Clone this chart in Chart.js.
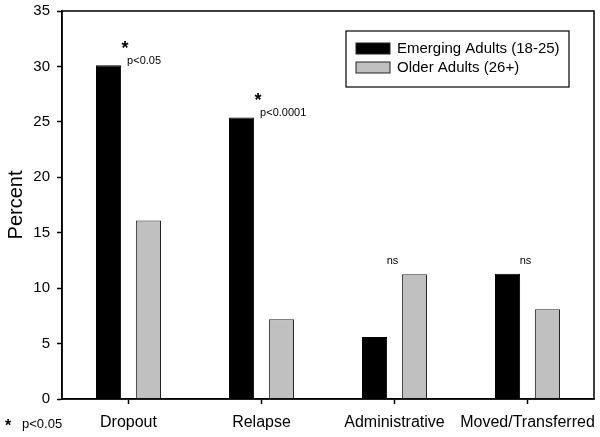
<!doctype html>
<html>

<head>
	<title>Dropout reasons</title>
	<script src="https://cdn.jsdelivr.net/npm/chart.js@4/dist/chart.umd.min.js"></script>
	<style>
		body { margin: 0; background: #fff; }
		#wrap { width: 600px; height: 437px; }
	</style>
</head>

<body>
	<div id="wrap">
		<canvas id="canvas"></canvas>
	</div>
	<script>
		var categories = ['Dropout', 'Relapse', 'Administrative', 'Moved/Transferred'];
		var emerging = [30.1, 25.4, 5.6, 11.3];
		var older = [16.1, 7.2, 11.25, 8.1];
		var seriesLabels = ['Emerging Adults (18-25)', 'Older Adults (26+)'];
		var pLabels = ['p<0.05', 'p<0.0001', '', ''];
		var nsLabels = ['', '', 'ns', 'ns'];
		var footNote = 'p<0.05';

		var FONT = 'Arial, "Liberation Sans", sans-serif';

		// frame, legend box and significance marks
		var extras = {
			id: 'extras',
			afterDraw: function(chart) {
				var ctx = chart.ctx;
				var area = chart.chartArea;
				ctx.save();
				ctx.strokeStyle = '#000';
				ctx.lineWidth = 1.5;
				ctx.strokeRect(area.left, area.top, area.right - area.left, area.bottom - area.top);

				// legend
				var lx = 346, ly = 31, lw = 223, lh = 56;
				ctx.lineWidth = 1.2;
				ctx.strokeRect(lx, ly, lw, lh);
				chart.data.datasets.forEach(function(ds, i) {
					var y = ly + 18 + i * 19;
					ctx.fillStyle = ds.backgroundColor;
					ctx.fillRect(lx + 10, y - 6, 34, 11);
					ctx.strokeStyle = '#222';
					ctx.lineWidth = 1;
					ctx.strokeRect(lx + 10, y - 6, 34, 11);
					ctx.fillStyle = '#000';
					ctx.font = '15px ' + FONT;
					ctx.textAlign = 'left';
					ctx.textBaseline = 'middle';
					ctx.fillText(ds.label, lx + 51, y);
				});

				// p-values and ns
				var meta0 = chart.getDatasetMeta(0);
				var meta1 = chart.getDatasetMeta(1);
				categories.forEach(function(c, i) {
					var bar = meta0.data[i];
					if (pLabels[i]) {
						ctx.fillStyle = '#000';
						ctx.font = 'bold 18px ' + FONT;
						ctx.textAlign = 'center';
						ctx.textBaseline = 'middle';
						ctx.fillText('*', bar.x + bar.width / 2 + 4, bar.y - 16);
						ctx.font = '11px ' + FONT;
						ctx.textAlign = 'left';
						ctx.fillText(pLabels[i], bar.x + bar.width / 2 + 6, bar.y - 4);
					}
					if (nsLabels[i]) {
						var top = Math.min(bar.y, meta1.data[i].y);
						var cx = chart.scales.x.getPixelForValue(i);
						ctx.fillStyle = '#000';
						ctx.font = '11px ' + FONT;
						ctx.textAlign = 'center';
						ctx.textBaseline = 'middle';
						ctx.fillText(nsLabels[i], cx - 2, top - 13);
					}
				});

				ctx.textAlign = 'left';
				ctx.textBaseline = 'middle';
				ctx.fillStyle = '#000';
				ctx.font = 'bold 16px ' + FONT;
				ctx.fillText('*', 5, 427);
				ctx.font = '13px ' + FONT;
				ctx.fillText(footNote, 22, 424);
				ctx.restore();
			}
		};

		window.onload = function() {
			window.myBar = new Chart('canvas', {
				type: 'bar',
				data: {
					labels: categories,
					datasets: [{
						label: seriesLabels[0],
						data: emerging,
						backgroundColor: '#000000',
						borderColor: '#000000',
						borderWidth: 1
					}, {
						label: seriesLabels[1],
						data: older,
						backgroundColor: '#c0c0c0',
						borderColor: '#222222',
						borderWidth: 1
					}]
				},
				options: {
					responsive: true,
					maintainAspectRatio: false,
					animation: false,
					categoryPercentage: 0.6,
					barPercentage: 0.63,
					layout: { padding: { left: 0, right: 6, top: 11, bottom: 0 } },
					plugins: {
						legend: { display: false },
						tooltip: { enabled: false }
					},
					scales: {
						x: {
							afterFit: function(s) {
								s.height = 38;
								s.paddingLeft = 0;
								s.paddingRight = 0;
							},
							grid: {
								offset: false,
								drawOnChartArea: false,
								tickLength: 5,
								tickColor: '#000',
								tickWidth: 1.5
							},
							border: { color: '#000', width: 1.5 },
							ticks: {
								color: '#000',
								padding: 9,
								maxRotation: 0,
								minRotation: 0,
								autoSkip: false,
								font: { family: FONT, size: 16 }
							}
						},
						y: {
							min: 0,
							max: 35,
							afterFit: function(s) {
								s.width = 62;
								s.paddingTop = 0;
								s.paddingBottom = 0;
							},
							grid: {
								drawOnChartArea: false,
								tickLength: 5,
								tickColor: '#000',
								tickWidth: 1.5
							},
							border: { color: '#000', width: 1.5 },
							ticks: {
								stepSize: 5,
								color: '#000',
								padding: 7,
								font: { family: FONT, size: 15 }
							},
							title: {
								display: true,
								text: 'Percent',
								color: '#000',
								padding: { top: 4, bottom: 0 },
								font: { family: FONT, size: 20 }
							}
						}
					}
				},
				plugins: [extras]
			});
		};
	</script>
</body>

</html>
